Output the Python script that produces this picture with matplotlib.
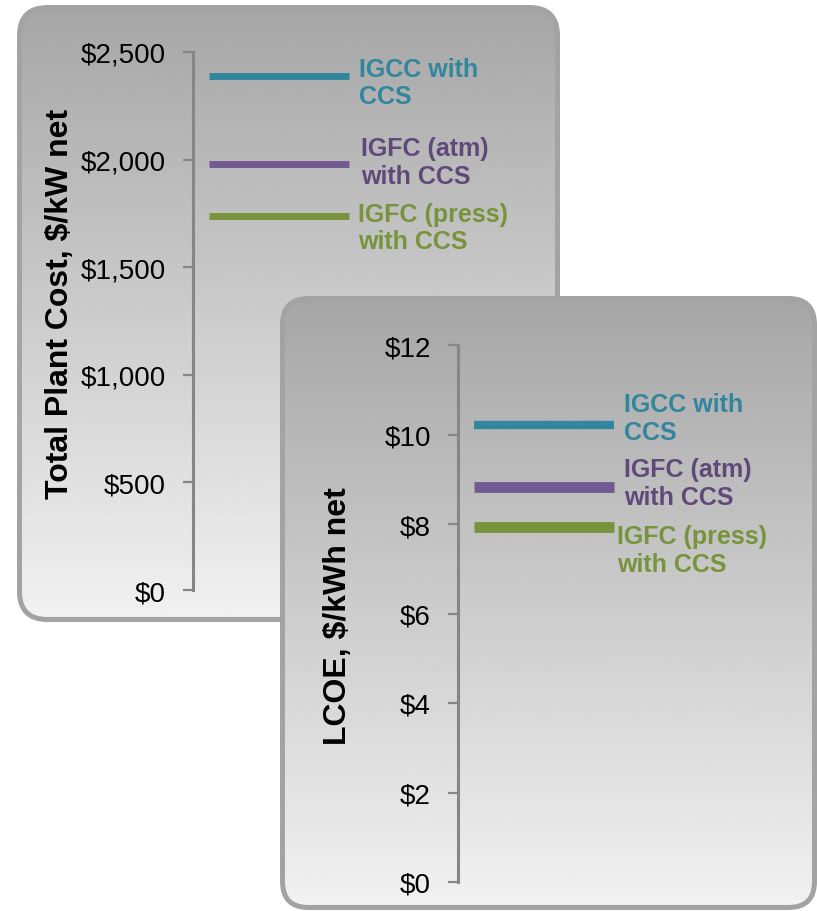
import numpy as np
import matplotlib
matplotlib.use("Agg")
import matplotlib.pyplot as plt
from matplotlib.patches import FancyBboxPatch
from matplotlib.ticker import FuncFormatter

plt.rcParams["font.family"] = ["Liberation Sans", "DejaVu Sans"]

# ---- data -------------------------------------------------------------
plants = ["IGCC with\nCCS", "IGFC (atm)\nwith CCS", "IGFC (press)\nwith CCS"]
total_plant_cost = [2390, 1980, 1740]      # $/kW net
lcoe = [10.21, 8.83, 7.93]                 # $/kWh net
tpc_ticks = [0, 500, 1000, 1500, 2000, 2500]
lcoe_ticks = [0, 2, 4, 6, 8, 10, 12]

line_colors = ["#31859C", "#715A91", "#77933C"]
text_colors = ["#31859C", "#5F497A", "#77933C"]

W, H = 817, 912
DPI = 100
fig = plt.figure(figsize=(W / DPI, H / DPI), dpi=DPI)
fig.patch.set_facecolor("white")


def px_axes(left, top, right, bottom):
    """Axes placed by pixel edges (origin top-left)."""
    return fig.add_axes([left / W, 1 - bottom / H, (right - left) / W, (bottom - top) / H])


# ---- rounded gradient panels -------------------------------------------
bg = fig.add_axes([0, 0, 1, 1], zorder=0)
bg.set_xlim(0, W)
bg.set_ylim(H, 0)
bg.axis("off")


def panel(x0, y0, x1, y1, radius, z):
    box = FancyBboxPatch((x0, y0), x1 - x0, y1 - y0,
                         boxstyle=f"round,pad=0,rounding_size={radius}",
                         facecolor="none", edgecolor="#A3A3A3",
                         linewidth=3.6, zorder=z + 1)
    fill = FancyBboxPatch((x0, y0), x1 - x0, y1 - y0,
                          boxstyle=f"round,pad=0,rounding_size={radius}",
                          facecolor="none", edgecolor="none", zorder=z)
    bg.add_patch(fill)
    grad = np.linspace(166, 241, 256)[:, None] / 255.0
    grad = np.repeat(grad, 2, axis=1)
    im = bg.imshow(grad, cmap="gray", vmin=0, vmax=1, origin="upper",
                   extent=(x0, x1, y1, y0), aspect="auto",
                   interpolation="bilinear", zorder=z)
    im.set_clip_path(fill)
    bg.add_patch(box)


panel(19.5, 8.5, 557.5, 620.5, 28, 1)
panel(282.5, 299.5, 814.5, 908.5, 26, 3)
bg.set_xlim(0, W)
bg.set_ylim(H, 0)

axis_gray = "#868686"


def style_axis(ax, ticks, ylim, fmt, ylabel, label_xy):
    ax.set_facecolor("none")
    for s in ("top", "right", "bottom"):
        ax.spines[s].set_visible(False)
    ax.spines["left"].set_color(axis_gray)
    ax.spines["left"].set_linewidth(2.2)
    ax.set_ylim(*ylim)
    ax.set_yticks(ticks)
    ax.yaxis.set_major_formatter(FuncFormatter(fmt))
    ax.tick_params(axis="y", direction="out", length=7, width=1.6,
                   color=axis_gray, labelsize=20, pad=12.5, labelcolor="black")
    ax.set_xticks([])
    ax.set_ylabel(ylabel, fontsize=23, fontweight="bold", va="center")
    ax.yaxis.set_label_coords(*label_xy)


def draw_lines(ax, values, widths, offsets):
    x_start, x_end = 16, 156
    ax.set_xlim(0, ax_width[ax])
    for v, c, tc, lw, lab, (dx, dy) in zip(values, line_colors, text_colors,
                                           widths, plants, offsets):
        ax.hlines(v, x_start, x_end, colors=c, linewidth=lw, capstyle="butt")
        ax.annotate(lab, xy=(x_end, v), xytext=(dx, dy),
                    textcoords="offset pixels", ha="left", va="top",
                    fontsize=18, fontweight="bold", color=tc,
                    linespacing=1.2, annotation_clip=False)


ax_width = {}

# ---- Total Plant Cost --------------------------------------------------
ax1 = px_axes(193, 53, 560, 591)
ax1.set_zorder(2)
ax_width[ax1] = 560 - 193
style_axis(ax1, tpc_ticks, (0, 2500), lambda v, p: f"${v:,.0f}",
           "Total Plant Cost, $/kW net", ((60 - 193) / 367, (591 - 303.5) / 538))
draw_lines(ax1, total_plant_cost, [5, 5, 5],
           [(10, 19), (12, 28), (9, 14)])

# ---- LCOE --------------------------------------------------------------
ax2 = px_axes(458, 346, 800, 883)
ax2.set_zorder(4)
ax_width[ax2] = 800 - 458
style_axis(ax2, lcoe_ticks, (0, 12), lambda v, p: f"${v:,.0f}",
           "LCOE, $/kWh net", ((338 - 458) / 342, (883 - 616) / 537))
draw_lines(ax2, lcoe, [6, 7.8, 7.8],
           [(10, 33), (10, 30), (3, 3)])

fig.savefig("out.png", dpi=DPI)
